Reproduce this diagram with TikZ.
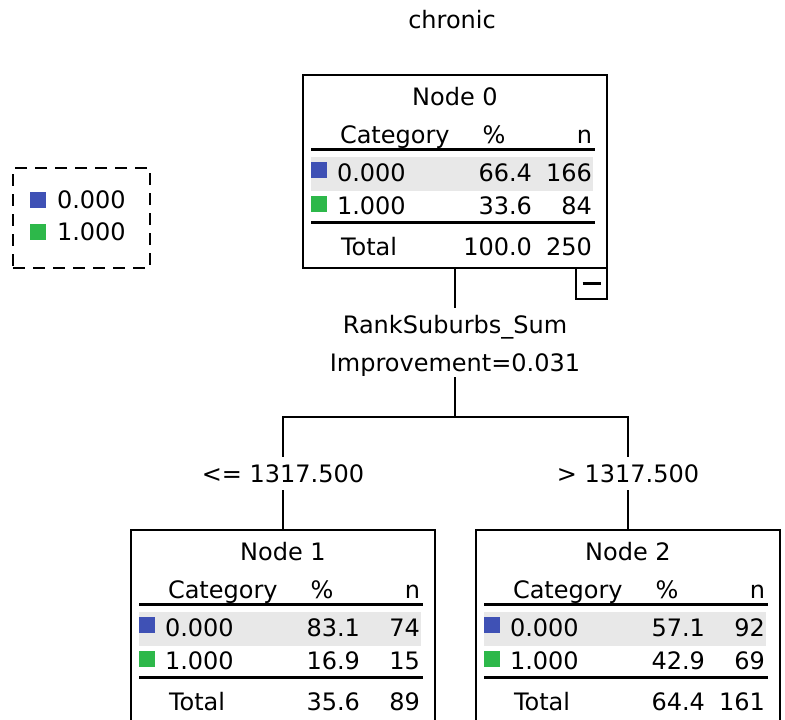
\documentclass[tikz,border=0pt]{standalone}
\usepackage{fontspec}
\setmainfont{DejaVu Sans}
\definecolor{catA}{HTML}{3F51B5}
\definecolor{catB}{HTML}{2DB84A}
\definecolor{rowgray}{HTML}{E8E8E8}
\tikzset{
  every node/.style={font=\fontsize{24}{28}\selectfont, inner sep=0pt, outer sep=0pt},
  treebox/.style={draw=black, line width=2.2pt, fill=white, rectangle, anchor=north west,
    minimum width=304pt, minimum height=193pt},
  txt/.style={anchor=base},
  txtl/.style={anchor=base west},
  txtr/.style={anchor=base east},
  rulel/.style={line width=2.2pt},
  conn/.style={line width=2.2pt},
  varlbl/.style={anchor=base, text height=17.5pt, text depth=0pt, outer ysep=8pt},
  implbl/.style={anchor=base, text height=17.5pt, text depth=5pt, outer ysep=1pt},
  cutlbl/.style={anchor=base, text height=17.5pt, text depth=0pt, outer ysep=8pt},
  legendbox/.style={draw=black, line width=2.2pt, dash pattern=on 12pt off 8pt,
    rectangle, anchor=north west, minimum width=137pt, minimum height=100pt},
}
% #1 name, #2 (left,top), #3 title, #4 p0, #5 n0, #6 p1, #7 n1, #8 ptot, #9 ntot
\newcommand\cartnode[9]{%
  \begin{scope}[shift={#2}]
    \node[treebox] (#1) at (0,0) {};
    \fill[rowgray] (8,81.5) rectangle (290,115.5);
    \node[txt] (#1-title) at (152,30.5) {#3};
    \node[txtl] (#1-cat) at (37,68.5) {Category};
    \node[txt] (#1-pcth) at (191,68.5) {\%};
    \node[txtr] (#1-nh) at (289,68.5) {n};
    \draw[rulel] (8,74.5) -- (292,74.5);
    \fill[catA] (8,87) rectangle (24,103);
    \node[txtl] (#1-c0) at (34,106.5) {0.000};
    \node[txtr] (#1-p0) at (229,106.5) {#4};
    \node[txtr] (#1-n0) at (289,106.5) {#5};
    \fill[catB] (8,121) rectangle (24,137);
    \node[txtl] (#1-c1) at (34,139.5) {1.000};
    \node[txtr] (#1-p1) at (229,139.5) {#6};
    \node[txtr] (#1-n1) at (289,139.5) {#7};
    \draw[rulel] (8,147.5) -- (292,147.5);
    \node[txtl] (#1-tot) at (38,180.5) {Total};
    \node[txtr] (#1-pt) at (229,180.5) {#8};
    \node[txtr] (#1-nt) at (289,180.5) {#9};
  \end{scope}}
\begin{document}
\begin{tikzpicture}[x=1pt,y=-1pt]
\useasboundingbox (0,0) rectangle (785,720);
\clip (0,0) rectangle (785,720);
\node[txt] (title) at (452,28) {chronic};

% legend
\node[legendbox] (legend) at (13,168) {};
\fill[catA] (30,192) rectangle (46,208);
\node[txtl] (legA) at (57,208) {0.000};
\fill[catB] (30,224) rectangle (46,240);
\node[txtl] (legB) at (57,240) {1.000};

% nodes
\cartnode{n0}{(303,75)}{Node 0}{66.4}{166}{33.6}{84}{100.0}{250}
\node[draw=black, line width=2.2pt, fill=white, rectangle, anchor=north east,
  minimum width=31pt, minimum height=31pt] (collapse) at (n0.south east) {};
\draw[line width=2.2pt] ([xshift=-9pt]collapse.center) -- ([xshift=9pt]collapse.center);

\cartnode{n1}{(131,530)}{Node 1}{83.1}{74}{16.9}{15}{35.6}{89}
\cartnode{n2}{(476,530)}{Node 2}{57.1}{92}{42.9}{69}{64.4}{161}

% split labels
\node[varlbl] (var) at (455,333) {RankSuburbs\_Sum};
\node[implbl] (imp) at (455,371) {Improvement=0.031};
\coordinate (split) at (455,417);
\node[cutlbl] (le) at (283,482) {<= 1317.500};
\node[cutlbl] (gt) at (628,482) {> 1317.500};

\draw[conn] (n0.south) -- (var.north);
\draw[conn] (imp.south) -- (split);
\draw[conn] (le.north) |- (split) -| (gt.north);
\draw[conn] (le.south) -- (n1.north);
\draw[conn] (gt.south) -- (n2.north);
\end{tikzpicture}
\end{document}
